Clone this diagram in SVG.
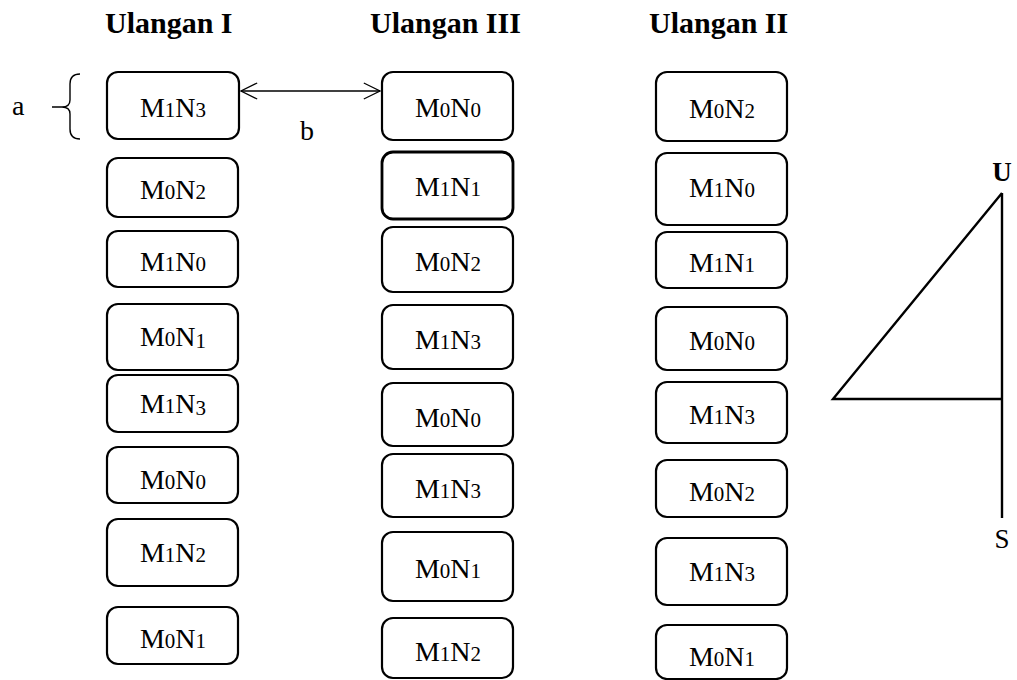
<svg xmlns="http://www.w3.org/2000/svg" width="1017" height="680" viewBox="0 0 1017 680">
<defs>
<marker id="open" viewBox="0 0 20 20" refX="19" refY="10" markerWidth="18" markerHeight="18" markerUnits="userSpaceOnUse" orient="auto-start-reverse">
<path d="M1,1 L19,10 L1,19" fill="none" stroke="#000" stroke-width="1.3"/>
</marker>
</defs>
<style>
.box{fill:#fff;stroke:#000;stroke-width:2.2}
.t{font-family:"Liberation Serif","Times New Roman",serif;font-size:28px;fill:#000;text-anchor:middle}
.s{font-size:21px}
.h{font-family:"Liberation Serif","Times New Roman",serif;font-size:30px;font-weight:bold;fill:#000}
.l{font-family:"Liberation Serif","Times New Roman",serif;font-size:28px;fill:#000}
.ln{fill:none;stroke:#000;stroke-width:2.4}
</style>
<rect width="1017" height="680" fill="#fff"/>
<g id="headers">
<text class="h" x="105" y="33">Ulangan I</text>
<text class="h" x="370" y="33">Ulangan III</text>
<text class="h" x="649" y="33">Ulangan II</text>
</g>
<g id="col1">
<g id="c1n1"><rect class="box" x="107" y="72" width="132" height="67" rx="11"/><text class="t" x="173" y="117">M<tspan class="s">1</tspan>N<tspan class="s">3</tspan></text></g>
<g id="c1n2"><rect class="box" x="107" y="158" width="131" height="59" rx="11"/><text class="t" x="173" y="199">M<tspan class="s">0</tspan>N<tspan class="s">2</tspan></text></g>
<g id="c1n3"><rect class="box" x="107" y="231" width="131" height="56" rx="11"/><text class="t" x="173" y="271">M<tspan class="s">1</tspan>N<tspan class="s">0</tspan></text></g>
<g id="c1n4"><rect class="box" x="107" y="304" width="131" height="66" rx="11"/><text class="t" x="173" y="346">M<tspan class="s">0</tspan>N<tspan class="s" dy="2">1</tspan></text></g>
<g id="c1n5"><rect class="box" x="107" y="375" width="131" height="57" rx="11"/><text class="t" x="173" y="413">M<tspan class="s">1</tspan>N<tspan class="s" dy="2">3</tspan></text></g>
<g id="c1n6"><rect class="box" x="107" y="447" width="131" height="56" rx="11"/><text class="t" x="173" y="489">M<tspan class="s">0</tspan>N<tspan class="s">0</tspan></text></g>
<g id="c1n7"><rect class="box" x="107" y="519" width="131" height="67" rx="11"/><text class="t" x="173" y="562">M<tspan class="s">1</tspan>N<tspan class="s">2</tspan></text></g>
<g id="c1n8"><rect class="box" x="107" y="607" width="131" height="57" rx="11"/><text class="t" x="173" y="648">M<tspan class="s">0</tspan>N<tspan class="s">1</tspan></text></g>
</g>
<g id="col2">
<g id="c2n1"><rect class="box" x="382" y="72" width="131" height="68" rx="11"/><text class="t" x="448" y="117">M<tspan class="s">0</tspan>N<tspan class="s">0</tspan></text></g>
<g id="c2n2"><rect class="box" x="382" y="152" width="131" height="67" rx="11" style="stroke-width:2.8"/><text class="t" x="448" y="196">M<tspan class="s">1</tspan>N<tspan class="s">1</tspan></text></g>
<g id="c2n3"><rect class="box" x="382" y="227" width="131" height="65" rx="11"/><text class="t" x="448" y="271">M<tspan class="s">0</tspan>N<tspan class="s">2</tspan></text></g>
<g id="c2n4"><rect class="box" x="382" y="305" width="131" height="64" rx="11"/><text class="t" x="448" y="349">M<tspan class="s">1</tspan>N<tspan class="s">3</tspan></text></g>
<g id="c2n5"><rect class="box" x="382" y="383" width="131" height="63" rx="11"/><text class="t" x="448" y="427">M<tspan class="s">0</tspan>N<tspan class="s">0</tspan></text></g>
<g id="c2n6"><rect class="box" x="382" y="454" width="131" height="63" rx="11"/><text class="t" x="448" y="498">M<tspan class="s">1</tspan>N<tspan class="s">3</tspan></text></g>
<g id="c2n7"><rect class="box" x="382" y="532" width="131" height="69" rx="11"/><text class="t" x="448" y="578">M<tspan class="s">0</tspan>N<tspan class="s">1</tspan></text></g>
<g id="c2n8"><rect class="box" x="382" y="618" width="131" height="60" rx="11"/><text class="t" x="448" y="661">M<tspan class="s">1</tspan>N<tspan class="s">2</tspan></text></g>
</g>
<g id="col3">
<g id="c3n1"><rect class="box" x="656" y="72" width="131" height="69" rx="11"/><text class="t" x="722" y="118">M<tspan class="s">0</tspan>N<tspan class="s">2</tspan></text></g>
<g id="c3n2"><rect class="box" x="656" y="153" width="131" height="72" rx="11"/><text class="t" x="722" y="197">M<tspan class="s">1</tspan>N<tspan class="s">0</tspan></text></g>
<g id="c3n3"><rect class="box" x="656" y="232" width="131" height="56" rx="11"/><text class="t" x="722" y="272">M<tspan class="s">1</tspan>N<tspan class="s">1</tspan></text></g>
<g id="c3n4"><rect class="box" x="656" y="307" width="131" height="63" rx="11"/><text class="t" x="722" y="350">M<tspan class="s">0</tspan>N<tspan class="s">0</tspan></text></g>
<g id="c3n5"><rect class="box" x="656" y="382" width="131" height="61" rx="11"/><text class="t" x="722" y="424">M<tspan class="s">1</tspan>N<tspan class="s">3</tspan></text></g>
<g id="c3n6"><rect class="box" x="656" y="460" width="131" height="57" rx="11"/><text class="t" x="722" y="501">M<tspan class="s">0</tspan>N<tspan class="s">2</tspan></text></g>
<g id="c3n7"><rect class="box" x="656" y="538" width="131" height="67" rx="11"/><text class="t" x="722" y="581">M<tspan class="s">1</tspan>N<tspan class="s">3</tspan></text></g>
<g id="c3n8"><rect class="box" x="656" y="625" width="131" height="54" rx="11"/><text class="t" x="722" y="666">M<tspan class="s">0</tspan>N<tspan class="s">1</tspan></text></g>
</g>
<g id="connectors">
<line x1="241" y1="91" x2="380" y2="91" stroke="#000" stroke-width="1.3" marker-start="url(#open)" marker-end="url(#open)"/>
<path d="M80,74 Q70,74 70,84 L70,100 Q70,107 62,107 L52,107 M80,139 Q70,139 70,129 L70,114 Q70,107 62,107" fill="none" stroke="#000" stroke-width="1.4"/>
</g>
<g id="labels">
<text class="l" x="12" y="115">a</text>
<text class="l" x="300" y="140">b</text>
</g>
<g id="compass">
<path class="ln" d="M1002,193 L1002,518 M1002,399 L833,399 L1002,193"/>
<text class="h" x="1002" y="181" text-anchor="middle" style="font-size:27px">U</text>
<text class="l" x="1002" y="548" text-anchor="middle" style="font-size:27px">S</text>
</g>
</svg>
